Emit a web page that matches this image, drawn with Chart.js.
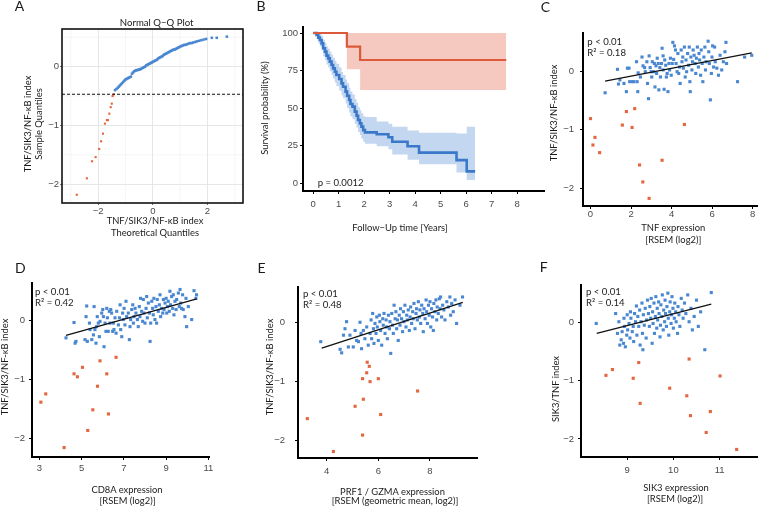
<!DOCTYPE html>
<html>
<head>
<meta charset="utf-8">
<script src="https://cdn.jsdelivr.net/npm/chart.js@4.4.1/dist/chart.umd.min.js"></script>
<style>
  html, body { margin: 0; padding: 0; background: #fff; }
  #wrap { position: relative; width: 761px; height: 510px; overflow: hidden; font-family: Lato, "Open Sans", sans-serif; color: #1a1a1a; }
  #wrap canvas { position: absolute; left: 0; top: 0; }
  .t { position: absolute; white-space: nowrap; font-size: 9.4px; line-height: 1; transform: translate(-50%, -50%); }
  .v { transform: translate(-50%, -50%) rotate(-90deg); }
  .n { position: absolute; white-space: nowrap; font-size: 9.6px; line-height: 1; transform: translate(0, -50%); color: #222; }
  .L { font-size: 14px; }
</style>
</head>
<body>
<div id="wrap">
  <canvas id="cA" width="761" height="510"></canvas>
  <canvas id="cB" width="761" height="510"></canvas>
  <canvas id="cC" width="761" height="510"></canvas>
  <canvas id="cD" width="761" height="510"></canvas>
  <canvas id="cE" width="761" height="510"></canvas>
  <canvas id="cF" width="761" height="510"></canvas>

  <div class="t L" style="left:19.5px;top:6px">A</div>
  <div class="t L" style="left:261px;top:6px">B</div>
  <div class="t L" style="left:545.5px;top:7px">C</div>
  <div class="t L" style="left:20.3px;top:268px">D</div>
  <div class="t L" style="left:261.5px;top:268px">E</div>
  <div class="t L" style="left:543.7px;top:267px">F</div>

  <div class="t" style="left:156.7px;top:22.5px;font-size:9.6px">Normal Q−Q Plot</div>
  <div class="t" style="left:155px;top:221px">TNF/SIK3/NF-κB index</div>
  <div class="t" style="left:155px;top:233px">Theoretical Quantiles</div>
  <div class="t v" style="left:28.3px;top:124px">TNF/SIK3/NF-κB index</div>
  <div class="t v" style="left:39.3px;top:124px">Sample Quantiles</div>

  <div class="t" style="left:400px;top:228.3px">Follow−Up time [Years]</div>
  <div class="t v" style="left:265px;top:108px">Survival probability (%)</div>
  <div class="n" style="left:317.7px;top:183px">p = 0.0012</div>

  <div class="t" style="left:673.3px;top:228.3px">TNF expression</div>
  <div class="t" style="left:673.3px;top:240px">[RSEM (log2)]</div>
  <div class="t v" style="left:554.3px;top:112.5px">TNF/SIK3/NF-κB index</div>
  <div class="n" style="left:587.3px;top:42px">p &lt; 0.01</div>
  <div class="n" style="left:587.3px;top:52.5px">R² = 0.18</div>

  <div class="t" style="left:127px;top:490px">CD8A expression</div>
  <div class="t" style="left:127.5px;top:500.5px">[RSEM (log2)]</div>
  <div class="t v" style="left:5px;top:367px">TNF/SIK3/NF-κB index</div>
  <div class="n" style="left:35px;top:292px">p &lt; 0.01</div>
  <div class="n" style="left:35px;top:303px">R² = 0.42</div>

  <div class="t" style="left:392.5px;top:491.7px">PRF1 / GZMA expression</div>
  <div class="t" style="left:395px;top:501px">[RSEM (geometric mean, log2)]</div>
  <div class="t v" style="left:270px;top:366.7px">TNF/SIK3/NF-κB index</div>
  <div class="n" style="left:303px;top:294px">p &lt; 0.01</div>
  <div class="n" style="left:303px;top:305px">R² = 0.48</div>

  <div class="t" style="left:676px;top:488px">SIK3 expression</div>
  <div class="t" style="left:675px;top:499px">[RSEM (log2)]</div>
  <div class="t v" style="left:555.8px;top:389px">SIK3/TNF index</div>
  <div class="n" style="left:586px;top:292px">p &lt; 0.01</div>
  <div class="n" style="left:586px;top:303px">R² = 0.14</div>
</div>

<script>
// ---- data ----
// A: normal Q-Q plot (theoretical, sample)
const qqLow = [[-2.78,-2.18],[-2.41,-1.90],[-2.22,-1.61],[-2.09,-1.54],[-1.96,-1.40],[-1.89,-1.27],[-1.82,-1.14],
  [-1.75,-0.97],[-1.68,-0.91],[-1.64,-0.91],[-1.59,-0.80],[-1.54,-0.69],[-1.50,-0.63],[-1.47,-0.50],[-1.42,-0.47]];
const qqHigh = [[-1.38,-0.40],[-1.33,-0.38],[-1.28,-0.36],[-1.24,-0.34],[-1.20,-0.32],[-1.16,-0.30],[-1.12,-0.28],
  [-1.08,-0.26],[-1.04,-0.24],[-1.00,-0.22],[-0.96,-0.21],[-0.92,-0.20],[-0.88,-0.19],[-0.84,-0.18],[-0.80,-0.17],
  [-0.76,-0.12],[-0.72,-0.10],[-0.68,-0.08],[-0.64,-0.07],[-0.60,-0.06],[-0.56,-0.06],[-0.52,-0.05],[-0.48,-0.05],
  [-0.44,-0.04],[-0.40,-0.03],[-0.36,-0.02],[-0.32,-0.01],[-0.28,0.00],[-0.24,0.02],[-0.20,0.03],[-0.16,0.04],
  [-0.12,0.05],[-0.08,0.06],[-0.04,0.07],[0.00,0.08],[0.04,0.09],[0.08,0.10],[0.12,0.11],[0.16,0.12],[0.20,0.14],
  [0.24,0.15],[0.28,0.16],[0.32,0.17],[0.36,0.18],[0.40,0.20],[0.44,0.21],[0.48,0.22],[0.52,0.23],[0.56,0.24],
  [0.60,0.25],[0.64,0.26],[0.68,0.27],[0.72,0.28],[0.76,0.29],[0.80,0.29],[0.84,0.30],[0.88,0.31],[0.92,0.32],
  [0.96,0.33],[1.00,0.34],[1.05,0.35],[1.10,0.36],[1.15,0.37],[1.20,0.37],[1.25,0.38],[1.30,0.39],[1.36,0.40],
  [1.42,0.40],[1.48,0.41],[1.55,0.42],[1.62,0.43],[1.70,0.44],[1.78,0.45],[1.86,0.46],[1.95,0.47],[2.16,0.49],
  [2.34,0.49],[2.71,0.51]];
const qqCut = -0.47;
const qqXTicks = [-2, 0, 2];
const qqXMinor = [-3, -1, 1, 3];
const qqYTicks = [-2, -1, 0];
const qqYMinor = [-1.5, -0.5, 0.5];

// B: Kaplan-Meier curves (years, survival %)
const loTime  = [0, 0.13, 0.2, 0.26, 0.33, 0.39, 0.46, 0.52, 0.59, 0.65, 0.72, 0.78, 0.85, 0.91, 1.02, 1.11, 1.17,
  1.27, 1.33, 1.41, 1.46, 1.54, 1.63, 1.7, 1.76, 1.83, 1.89, 1.96, 2.03, 2.49, 2.95, 3.1, 3.7, 4.15, 5.62, 6.02, 6.35];
const loSurv  = [100, 98.7, 96.9, 95.3, 93.1, 89.8, 87.6, 84.9, 83.1, 80.9, 78.7, 76.4, 74.2, 72, 69.3, 66.4, 64.2,
  60.9, 58.2, 55.3, 52.7, 50.9, 47.6, 44.9, 42, 39.8, 37.6, 35.3, 33.8, 32.5, 30.5, 27.5, 24.5, 20.3, 15.3, 7.8, 7.8];
const loUpper = [100, 100, 100, 99.5, 98, 95.5, 93.5, 91, 89.5, 87.5, 85.5, 83.5, 81.5, 79.5, 77, 74, 72,
  69, 66.5, 63.5, 61, 59, 56, 53.5, 50.5, 48.5, 46.5, 44.5, 44, 41, 39.5, 37.5, 35, 33.5, 33, 37.5, 37.5];
const loLower = [100, 96, 93, 91, 88.5, 84.5, 82, 79, 77, 74.5, 72, 69.5, 67, 64.5, 61.5, 58.5, 56.5,
  53, 50, 47, 44.5, 42.5, 39.5, 37, 34, 32, 29.5, 27.5, 26.2, 24.5, 22.5, 19, 15.5, 12.5, 7, 2, 2];
const hiTime  = [0, 1.32, 1.84, 7.57];
const hiSurv  = [100, 90.9, 82, 82];
const hiUpper = [100, 100, 100, 100];
const hiLower = [100, 75.8, 62, 62];
const kmXTicks = [0, 1, 2, 3, 4, 5, 6, 7, 8];
const kmYTicks = [0, 25, 50, 75, 100];

// C: TNF expression vs index
const cHigh = [[0.72,-0.37],[1.33,0.03],[1.38,-0.22],[1.45,-0.15],[1.65,-0.21],[1.77,-0.35],[1.82,0.05],[1.90,0.05],
  [1.93,-0.18],[2.06,-0.18],[2.14,-0.18],[2.27,0.16],[2.30,-0.18],[2.33,-0.35],[2.35,-0.03],[2.46,-0.10],[2.54,0.24],
  [2.59,0.09],[2.67,0.06],[2.70,-0.01],[2.78,0.16],[2.81,-0.21],[2.86,-0.47],[2.89,0.26],[2.94,0.06],[2.99,-0.01],
  [3.02,-0.10],[3.05,0.16],[3.10,-0.01],[3.15,0.13],[3.18,-0.27],[3.23,0.09],[3.26,-0.04],[3.29,0.22],[3.34,0.13],
  [3.37,-0.32],[3.42,0.06],[3.45,-0.10],[3.50,0.13],[3.53,0.39],[3.58,0.26],[3.58,0.02],[3.63,-0.31],[3.66,0.19],
  [3.71,0.10],[3.74,-0.10],[3.78,-0.04],[3.82,-0.35],[3.87,0.13],[3.90,0.02],[3.94,0.22],[3.98,-0.07],[4.03,0.13],
  [4.06,0.49],[4.10,0.20],[4.14,0.43],[4.19,0.36],[4.22,0.13],[4.27,-0.01],[4.31,0.30],[4.35,-0.04],[4.39,0.07],
  [4.42,-0.21],[4.47,0.36],[4.51,0.16],[4.55,0.24],[4.58,0.05],[4.63,0.41],[4.67,-0.10],[4.71,0.19],[4.74,-0.01],
  [4.79,0.30],[4.84,0.10],[4.87,0.41],[4.90,-0.18],[4.92,-0.35],[4.95,0.24],[5.00,0.02],[5.03,0.16],[5.06,0.36],
  [5.11,0.27],[5.16,0.13],[5.19,-0.04],[5.22,0.22],[5.27,0.41],[5.32,0.07],[5.35,0.30],[5.38,0.19],[5.43,-0.07],
  [5.46,0.36],[5.51,0.13],[5.54,-0.18],[5.59,0.24],[5.64,0.41],[5.67,0.02],[5.70,0.16],[5.80,0.51],[5.83,0.33],
  [5.86,0.13],[5.91,-0.49],[5.96,-0.04],[5.99,0.24],[6.02,0.43],[6.07,0.07],[6.12,0.41],[6.15,0.16],[6.23,0.05],
  [6.31,-0.07],[6.39,0.27],[6.47,0.02],[6.55,0.16],[6.63,0.33],[6.68,0.49],[6.71,0.13],[7.25,-0.18],[7.60,0.24],
  [7.95,0.27]];
const cLow = [[0.00,-0.81],[0.12,-1.26],[0.22,-1.13],[0.45,-1.39],[1.57,-0.92],[1.77,-0.69],[2.05,-0.96],[2.18,-0.64],
  [2.42,-1.60],[2.58,-1.89],[2.89,-2.17],[3.53,-1.52],[4.63,-0.91]];
const cFit = [[0.72,-0.17],[7.95,0.31]];
const cXTicks = [0, 2, 4, 6, 8];

// D: CD8A expression vs index
const dHigh = [[4.26,-0.29],[4.64,-0.03],[4.69,-0.38],[4.73,-0.35],[5.16,-0.32],[5.21,0.07],[5.24,0.25],[5.27,-0.35],
  [5.37,-0.04],[5.40,-0.15],[5.48,-0.32],[5.56,-0.24],[5.59,0.24],[5.63,-0.15],[5.68,-0.38],[5.71,-0.10],[5.74,0.07],
  [5.79,-0.04],[5.84,-0.27],[5.87,-0.01],[5.95,0.13],[6.00,0.19],[6.03,0.07],[6.06,-0.44],[6.11,-0.04],[6.15,-0.18],
  [6.19,0.21],[6.22,0.05],[6.26,-0.18],[6.31,0.16],[6.34,-0.04],[6.38,0.19],[6.42,0.13],[6.47,-0.18],[6.50,-0.04],
  [6.53,-0.15],[6.58,0.05],[6.63,-0.21],[6.66,0.16],[6.74,-0.07],[6.79,0.05],[6.82,0.27],[6.85,-0.15],[6.90,-0.27],
  [6.94,0.13],[6.97,0.02],[7.01,0.21],[7.05,-0.07],[7.10,0.33],[7.13,0.07],[7.21,0.13],[7.26,-0.32],[7.29,-0.10],
  [7.32,0.02],[7.37,0.19],[7.42,0.27],[7.45,-0.04],[7.48,0.07],[7.53,0.21],[7.57,0.13],[7.64,0.02],[7.68,-0.10],
  [7.73,0.24],[7.76,0.07],[7.79,0.38],[7.84,0.16],[7.89,-0.01],[7.92,0.36],[7.95,0.13],[8.00,-0.04],[8.05,0.21],
  [8.08,0.41],[8.11,0.05],[8.16,0.30],[8.21,0.13],[8.24,-0.35],[8.27,-0.04],[8.32,0.33],[8.36,0.21],[8.39,0.10],
  [8.42,0.38],[8.47,0.02],[8.52,0.24],[8.55,-0.04],[8.58,0.36],[8.63,0.16],[8.68,0.27],[8.71,0.44],[8.74,0.07],
  [8.79,0.21],[8.84,0.13],[8.87,0.36],[8.90,0.19],[8.95,0.30],[9.00,0.38],[9.03,0.13],[9.06,0.24],[9.10,0.33],
  [9.15,0.16],[9.18,0.50],[9.21,0.27],[9.26,0.41],[9.31,0.21],[9.34,0.44],[9.37,0.10],[9.42,0.33],[9.47,0.19],
  [9.50,0.36],[9.58,0.47],[9.62,0.24],[9.66,0.53],[9.69,0.30],[9.73,0.21],[9.78,0.44],[9.81,0.19],[9.89,0.07],
  [9.94,0.38],[9.97,-0.10],[10.05,0.24],[10.21,0.02],[10.32,0.51],[10.41,0.38],[10.44,0.44]];
const dLow = [[3.07,-1.38],[3.30,-1.24],[4.17,-2.15],[4.64,-0.90],[4.80,-0.95],[5.04,-0.79],[5.53,-1.51],[5.29,-1.86],
  [5.75,-1.11],[5.87,-0.68],[6.19,-0.90],[6.27,-1.58],[6.63,-0.62]];
const dFit = [[4.26,-0.25],[10.45,0.37]];
const dXTicks = [3, 5, 7, 9, 11];

// E: PRF1 / GZMA expression vs index
const eHigh = [[3.77,-0.32],[4.52,-0.45],[4.58,-0.51],[4.65,-0.21],[4.71,-0.10],[4.77,0.02],[4.84,-0.41],[4.90,-0.21],
  [5.03,-0.41],[5.10,-0.13],[5.16,-0.30],[5.23,-0.32],[5.29,0.01],[5.33,-0.18],[5.35,-0.44],[5.42,-0.13],[5.48,-0.27],
  [5.55,-0.07],[5.61,-0.38],[5.68,-0.18],[5.72,0.05],[5.74,-0.27],[5.78,0.16],[5.81,-0.10],[5.83,-0.35],[5.87,-0.01],
  [5.91,-0.18],[5.94,0.10],[5.96,-0.07],[6.00,-0.30],[6.04,0.13],[6.06,0.02],[6.09,-0.13],[6.13,-0.38],[6.17,0.07],
  [6.19,-0.04],[6.22,0.16],[6.26,-0.18],[6.30,0.05],[6.32,-0.07],[6.35,-0.27],[6.39,0.13],[6.43,-0.10],[6.45,0.02],
  [6.48,-0.52],[6.52,0.16],[6.55,-0.04],[6.58,-0.18],[6.61,0.30],[6.65,0.07],[6.68,0.19],[6.71,-0.10],[6.74,0.05],
  [6.77,-0.30],[6.81,0.13],[6.84,-0.04],[6.86,0.24],[6.90,0.07],[6.94,-0.15],[6.97,0.19],[6.99,0.02],[7.03,0.30],
  [7.07,-0.07],[7.10,0.13],[7.12,0.05],[7.16,0.22],[7.20,-0.13],[7.23,0.10],[7.25,0.27],[7.29,-0.01],[7.33,0.19],
  [7.35,0.07],[7.38,0.33],[7.42,-0.10],[7.46,0.16],[7.48,0.24],[7.51,0.05],[7.55,0.36],[7.59,0.10],[7.61,0.22],
  [7.64,-0.01],[7.68,0.30],[7.72,0.16],[7.74,-0.15],[7.77,0.24],[7.81,0.07],[7.85,0.39],[7.87,0.19],[7.90,-0.01],
  [7.94,0.30],[7.97,0.13],[8.00,0.36],[8.03,-0.07],[8.06,0.24],[8.10,0.10],[8.13,-0.13],[8.15,0.33],[8.19,0.19],
  [8.23,0.39],[8.26,0.05],[8.28,0.27],[8.32,0.16],[8.36,0.41],[8.39,0.24],[8.41,0.44],[8.45,0.10],[8.49,0.30],
  [8.54,0.22],[8.58,0.05],[8.65,0.36],[8.71,0.27],[8.77,0.44],[8.80,0.13],[8.84,0.33],[8.90,0.19],[8.97,0.39],
  [9.03,-0.01],[9.16,0.30],[9.26,0.44]];
const eLow = [[3.25,-1.63],[4.26,-2.19],[5.10,-1.42],[5.39,-1.91],[5.39,-0.95],[5.42,-1.30],[5.57,-0.67],[5.55,-0.85],
  [5.65,-0.74],[5.68,-1.00],[6.00,-0.95],[6.09,-1.56],[7.52,-1.16]];
const eFit = [[3.81,-0.43],[9.27,0.35]];
const eXTicks = [4, 6, 8];

// F: SIK3 expression vs SIK3/TNF index
const fHigh = [[8.33,-0.02],[8.75,0.15],[8.79,-0.19],[8.82,0.01],[8.84,-0.39],[8.87,-0.30],[8.89,-0.16],[8.92,-0.36],
  [8.93,0.07],[8.94,-0.07],[8.96,-0.42],[8.99,-0.22],[9.00,0.13],[9.01,-0.13],[9.04,-0.02],[9.06,-0.27],[9.07,0.18],
  [9.08,0.07],[9.11,-0.16],[9.13,-0.07],[9.14,-0.33],[9.16,0.15],[9.18,0.01],[9.20,0.28],[9.21,-0.22],[9.23,0.10],
  [9.25,-0.07],[9.27,0.21],[9.28,-0.39],[9.30,0.01],[9.32,0.33],[9.33,-0.19],[9.34,-0.47],[9.35,0.13],[9.37,-0.05],
  [9.39,0.24],[9.41,-0.27],[9.42,0.04],[9.44,0.38],[9.46,0.15],[9.48,-0.07],[9.49,0.27],[9.51,0.07],[9.52,0.41],
  [9.54,-0.36],[9.55,0.18],[9.56,-0.02],[9.58,0.33],[9.59,-0.19],[9.61,0.10],[9.62,0.44],[9.64,-0.10],[9.65,0.24],
  [9.66,0.04],[9.68,0.35],[9.69,0.15],[9.71,-0.25],[9.72,-0.05],[9.73,0.30],[9.75,0.10],[9.76,0.47],[9.78,-0.13],
  [9.79,0.21],[9.81,0.01],[9.82,0.38],[9.83,0.15],[9.85,-0.07],[9.86,0.27],[9.88,0.50],[9.89,0.07],[9.90,-0.22],
  [9.92,0.18],[9.93,0.35],[9.95,-0.02],[9.96,0.13],[9.97,0.44],[9.99,0.24],[10.00,-0.10],[10.02,0.07],[10.03,0.33],
  [10.05,0.18],[10.06,0.01],[10.09,-0.19],[10.10,0.27],[10.12,0.13],[10.14,-0.07],[10.17,0.41],[10.19,0.21],
  [10.21,0.07],[10.24,0.33],[10.27,0.15],[10.31,0.47],[10.34,0.01],[10.38,0.24],[10.41,-0.13],[10.45,0.10],
  [10.50,0.38],[10.54,-0.07],[10.59,0.18],[10.68,-0.47],[10.82,0.51]];
const fLow = [[8.54,-0.91],[8.68,-0.81],[9.13,-0.96],[9.25,-0.69],[9.28,-1.39],[9.92,-1.13],[10.29,-1.26],[10.34,-0.63],
  [10.37,-1.60],[10.71,-1.89],[10.80,-1.53],[11.01,-0.92],[11.37,-2.18]];
const fFit = [[8.34,-0.19],[10.82,0.31]];
const fXTicks = [9, 10, 11];

const idxTicks = [-2, -1, 0];

// ---- drawing ----
const W = 761, H = 510;
const TICK_FONT = '"Liberation Sans", Arial, sans-serif';
const BLUE = '#4a87d1', RED = '#e4663e';
const fmt = v => (v < 0 ? '\u2212' + Math.abs(v) : String(v));
const pts = a => a.map(p => ({ x: p[0], y: p[1] }));
const zip = (xs, ys) => xs.map((x, i) => ({ x, y: ys[i] }));

// box round the Q-Q panel
const frame = {
  id: 'frame',
  afterDraw(chart) {
    const a = chart.chartArea, g = chart.ctx;
    g.save();
    g.strokeStyle = '#111';
    g.lineWidth = 1.6;
    g.strokeRect(a.left, a.top, a.right - a.left, a.bottom - a.top);
    g.restore();
  }
};

// thin minor grid lines of the Q-Q panel
const minorGrid = {
  id: 'minorGrid',
  beforeDatasetsDraw(chart) {
    const a = chart.chartArea, g = chart.ctx, sx = chart.scales.x, sy = chart.scales.y;
    g.save();
    g.strokeStyle = '#eeeeee';
    g.lineWidth = 0.6;
    g.beginPath();
    qqXMinor.forEach(v => { const p = sx.getPixelForValue(v); g.moveTo(p, a.top); g.lineTo(p, a.bottom); });
    qqYMinor.forEach(v => { const p = sy.getPixelForValue(v); g.moveTo(a.left, p); g.lineTo(a.right, p); });
    g.stroke();
    g.restore();
  }
};

const axisLine = { display: true, color: '#000', width: 2 };
const tickOnly = { display: true, drawOnChartArea: false, tickLength: 3, tickColor: '#000', tickWidth: 1 };

function scale(s, area, horiz) {
  return {
    type: 'linear',
    min: s.min, max: s.max,
    afterBuildTicks: sc => { sc.ticks = s.ticks.map(v => ({ value: v })); },
    afterFit: sc => { if (horiz) sc.height = H - area.b; else sc.width = area.l; },
    ticks: {
      font: { family: TICK_FONT, size: 9.5 }, color: '#4a4a4a', padding: s.pad,
      autoSkip: false, maxRotation: 0,
      callback: v => fmt(v)
    },
    grid: s.grid || tickOnly,
    border: s.border || axisLine
  };
}

function panel(id, type, area, xs, ys, datasets, plugins) {
  return new Chart(document.getElementById(id), {
    type,
    data: { datasets },
    options: {
      responsive: false, animation: false, events: [],
      layout: { padding: { left: 0, top: area.t, right: W - area.r, bottom: 0 } },
      plugins: { legend: { display: false }, tooltip: { enabled: false } },
      scales: { x: scale(xs, area, true), y: scale(ys, area, false) }
    },
    plugins: plugins || []
  });
}

const dots = (data, color, r) => ({ data: pts(data), backgroundColor: color, borderWidth: 0, pointStyle: 'rect', pointRadius: r, showLine: false });
const fit = data => ({ data: pts(data), showLine: true, borderColor: '#111', borderWidth: 1.3, pointRadius: 0 });

// A
const qqGrid = { display: true, drawTicks: true, tickLength: 2, color: '#e3e3e3', lineWidth: 0.9, tickColor: '#666' };
panel('cA', 'scatter', { l: 62, t: 29, r: 243, b: 203 },
  { min: -3.32, max: 3.30, ticks: qqXTicks, pad: 1, grid: qqGrid, border: { display: false } },
  { min: -2.32, max: 0.64, ticks: qqYTicks, pad: 1, grid: qqGrid, border: { display: false } },
  [
    { data: [{ x: -3.32, y: qqCut }, { x: 3.30, y: qqCut }], showLine: true, borderColor: '#111', borderWidth: 1.1, borderDash: [3, 2], pointRadius: 0 },
    dots(qqHigh, BLUE, 1.8),
    dots(qqLow, RED, 1.5)
  ], [minorGrid, frame]);

// B
const band = (t, v, color, fill) => ({ data: zip(t, v), stepped: 'before', borderWidth: 0, pointRadius: 0, backgroundColor: color, fill, order: 3 });
panel('cB', 'line', { l: 303, t: 27, r: 544, b: 191 },
  { min: -0.4, max: 9.05, ticks: kmXTicks, pad: 4.5 },
  { min: -5.3, max: 104, ticks: kmYTicks, pad: 2 },
  [
    { data: zip(hiTime, hiSurv), stepped: 'before', borderColor: '#dc5a3b', borderWidth: 2.2, pointRadius: 0, fill: false, order: 1 },
    { data: zip(loTime, loSurv), stepped: 'before', borderColor: '#3a78c9', borderWidth: 2.6, pointRadius: 0, fill: false, order: 1 },
    band(hiTime, hiUpper, '#f5c9bf', '+1'),
    band(hiTime, hiLower, 'rgba(0,0,0,0)', false),
    band(loTime, loUpper, '#c3d8f0', '+1'),
    band(loTime, loLower, 'rgba(0,0,0,0)', false)
  ]);

// C
panel('cC', 'scatter', { l: 583, t: 33, r: 761, b: 206 },
  { min: -0.37, max: 8.21, ticks: cXTicks, pad: 0 },
  { min: -2.30, max: 0.65, ticks: idxTicks, pad: 6 },
  [fit(cFit), dots(cHigh, BLUE, 2.2), dots(cLow, RED, 2.2)]);

// D
panel('cD', 'scatter', { l: 32, t: 283, r: 209, b: 457 },
  { min: 2.65, max: 11.03, ticks: dXTicks, pad: 3 },
  { min: -2.31, max: 0.64, ticks: idxTicks, pad: 4 },
  [fit(dFit), dots(dHigh, BLUE, 2.2), dots(dLow, RED, 2.2)]);

// E
panel('cE', 'scatter', { l: 298, t: 287, r: 477, b: 458 },
  { min: 2.89, max: 9.82, ticks: eXTicks, pad: 5 },
  { min: -2.30, max: 0.61, ticks: idxTicks, pad: 10 },
  [fit(eFit), dots(eHigh, BLUE, 2.2), dots(eLow, RED, 2.2)]);

// F
panel('cF', 'scatter', { l: 581, t: 285, r: 761, b: 457 },
  { min: 8.0, max: 11.81, ticks: fXTicks, pad: 5 },
  { min: -2.31, max: 0.64, ticks: idxTicks, pad: 4 },
  [fit(fFit), dots(fHigh, BLUE, 2.2), dots(fLow, RED, 2.2)]);
</script>
</body>
</html>
